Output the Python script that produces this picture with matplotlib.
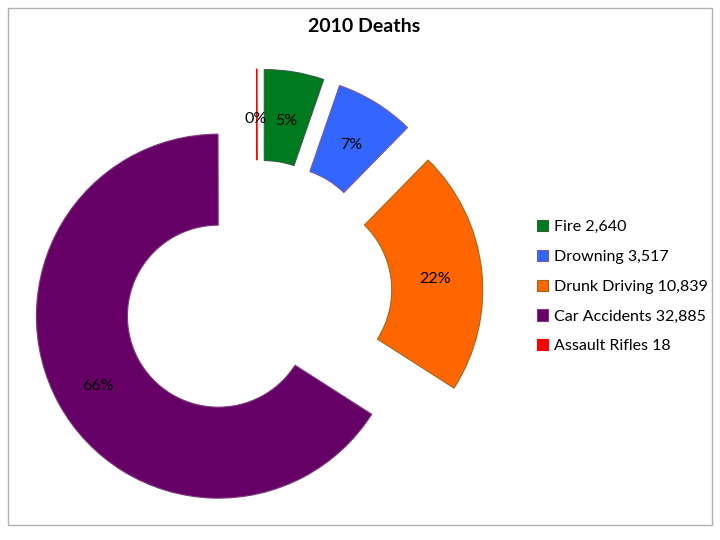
import matplotlib.pyplot as plt
from matplotlib.patches import Rectangle

# data
causes = ['Fire', 'Drowning', 'Drunk Driving', 'Car Accidents', 'Assault Rifles']
deaths = [2640, 3517, 10839, 32885, 18]
colors = ['#007a1e', '#3366ff', '#ff6600', '#660066', '#ff0000']
edges = ['#2f5f3f', '#7a5a9a', '#9a6a20', '#7a3a7a', '#ff0000']

plt.rcParams['font.family'] = ['Lato', 'DejaVu Sans']

fig = plt.figure(figsize=(7.2, 5.4), dpi=100)
ax = fig.add_axes([0, 0, 1, 1])

# pie drawn in pixel units: center, radius, ring width, explode offset
wedges, texts, autotexts = ax.pie(
    deaths, colors=colors, startangle=90, counterclock=False,
    center=(257, 245), radius=182, explode=[44] * len(deaths),
    autopct='%.0f%%', pctdistance=0.75,
    wedgeprops=dict(width=91, linewidth=0.8),
    textprops=dict(fontsize=11.5, color='black'),
    frame=True)
for w, ec in zip(wedges, edges):
    w.set_edgecolor(ec)
# labels sit a little lower in the original
for t in autotexts:
    x, y = t.get_position()
    t.set_position((x - 1, y - 4))
ax.set_xlim(0, 720)
ax.set_ylim(0, 540)
ax.set_aspect('equal')
ax.axis('off')

labels = ['%s %s' % (c, format(d, ',')) for c, d in zip(causes, deaths)]
fig.legend(wedges, labels, loc='upper left', bbox_to_anchor=(529 / 720, 1 - 212 / 540),
           frameon=False, fontsize=11.5, handlelength=0.7, handleheight=0.7,
           handletextpad=0.35, labelspacing=0.98, borderpad=0)

fig.text(364 / 720, 1 - 27 / 540, '2010 Deaths', ha='center', va='center',
         fontsize=14, fontweight='bold')

fig.patches.append(Rectangle((8 / 720, 1 - 525 / 540), 704 / 720, 517 / 540,
                             transform=fig.transFigure, fill=False,
                             edgecolor='#b0b0b0', linewidth=1))

fig.savefig('out.png', dpi=100)
